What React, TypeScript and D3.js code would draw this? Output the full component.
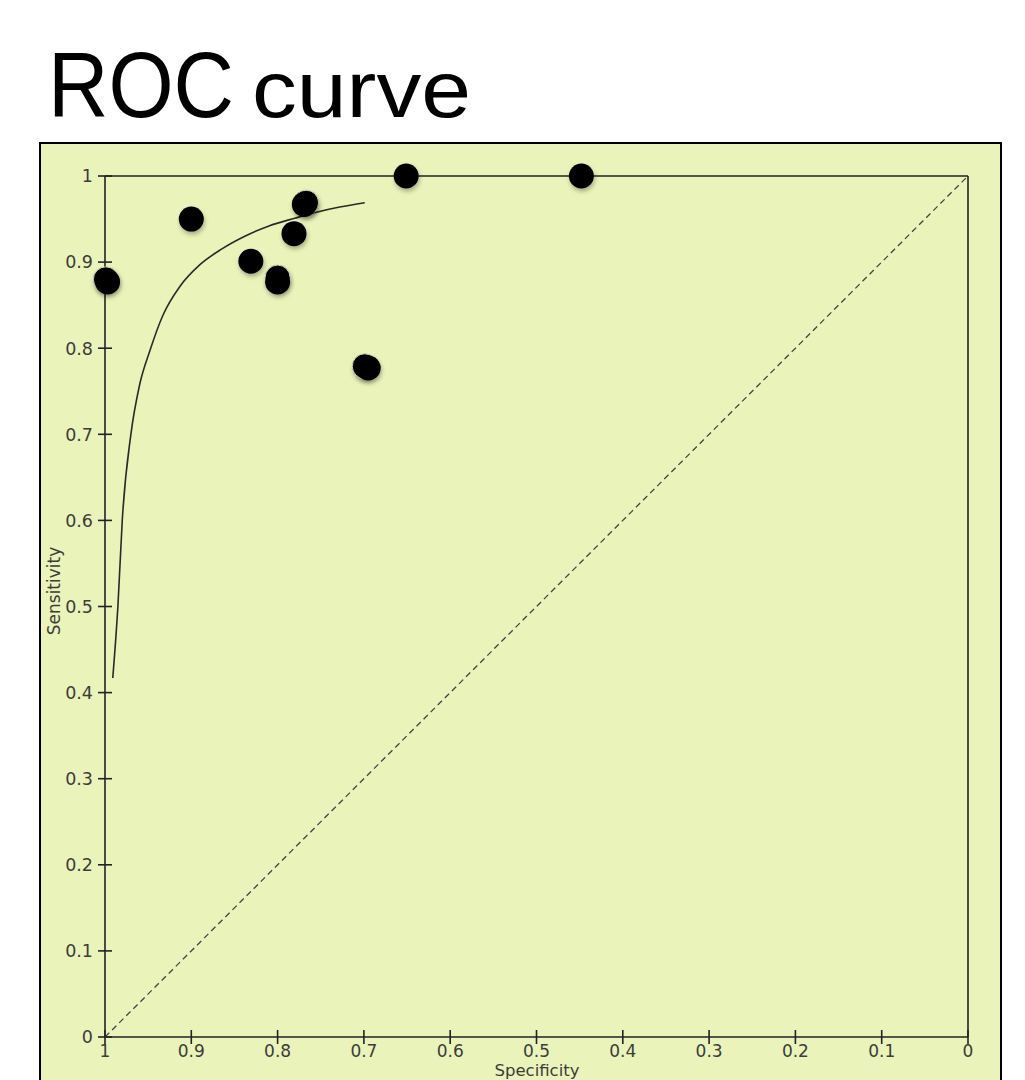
import React from 'react'
import * as d3 from 'd3'

// study points (specificity, sensitivity) - the first four sit just under another study
const studySpec = [0.999, 0.800, 0.699, 0.767, 0.997, 0.900, 0.831, 0.800, 0.781, 0.769, 0.695, 0.651, 0.448]
const studySens = [0.880, 0.882, 0.779, 0.969, 0.877, 0.950, 0.901, 0.877, 0.933, 0.967, 0.777, 1.0, 1.0]
const hiddenCount = 4

// fitted SROC curve
const curveSpec = [0.991, 0.985, 0.980, 0.970, 0.960, 0.948, 0.933, 0.913, 0.890, 0.865, 0.838, 0.810, 0.780, 0.755, 0.728, 0.699]
const curveSens = [0.417, 0.501, 0.600, 0.700, 0.757, 0.797, 0.838, 0.872, 0.897, 0.915, 0.930, 0.942, 0.951, 0.958, 0.964, 0.969]

const tickValues = [0, 0.1, 0.2, 0.3, 0.4, 0.5, 0.6, 0.7, 0.8, 0.9, 1]

const W = 1025
const H = 1080
const bg = '#eaf3b9'
const ink = '#222'
const labelColor = '#3c3c3c'
const tickFont = '"DejaVu Sans", Verdana, sans-serif'

const fmt = (v: number) => String(+v.toFixed(1))

export default function App() {
  const x = d3.scaleLinear().domain([1, 0]).range([105, 968])
  const y = d3.scaleLinear().domain([0, 1]).range([1037, 176])

  const curve = curveSpec.map((s, i) => [s, curveSens[i]] as [number, number])
  const linePath = d3.line<[number, number]>()
    .x(d => x(d[0]))
    .y(d => y(d[1]))
    .curve(d3.curveMonotoneX)(curve)

  const points = studySpec.map((s, i) => ({ spec: s, sens: studySens[i], hidden: i < hiddenCount }))

  return (
    <div style={{ position: 'absolute', left: 0, top: 0 }}>
      <svg width={W} height={H} style={{ display: 'block' }}>
        <defs>
          <filter id="shadow" x="-50%" y="-50%" width="200%" height="200%">
            <feDropShadow dx="1" dy="3" stdDeviation="2.2" floodColor="#000" floodOpacity="0.28" />
          </filter>
        </defs>
        <rect width={W} height={H} fill="#fff" />

        <text x={48} y={117} fontFamily='"Liberation Sans", Arial, sans-serif' fontSize={93}
          textLength={186} lengthAdjust="spacingAndGlyphs" fill="#000">ROC</text>
        <text x={252} y={117} fontFamily='"Liberation Sans", Arial, sans-serif' fontSize={79}
          textLength={219} lengthAdjust="spacingAndGlyphs" fill="#000">curve</text>

        <rect x={40} y={143} width={961} height={960} fill={bg} stroke="#000" strokeWidth={2} />

        {/* frame */}
        <line x1={x(1)} x2={x(0)} y1={y(1)} y2={y(1)} stroke={ink} strokeWidth={1.6} />
        <line x1={x(0)} x2={x(0)} y1={y(1)} y2={y(0)} stroke={ink} strokeWidth={1.6} />
        <line x1={x(1)} x2={x(1)} y1={y(1)} y2={y(0)} stroke={ink} strokeWidth={1.6} />
        <line x1={x(1)} x2={x(0)} y1={y(0)} y2={y(0)} stroke={ink} strokeWidth={1.6} />

        {/* chance line */}
        <line x1={x(1)} y1={y(0)} x2={x(0)} y2={y(1)} stroke="#444" strokeWidth={1.3} strokeDasharray="6,4" />

        {/* y axis */}
        {tickValues.map(t => (
          <g key={'y' + t}>
            <line x1={x(1) - 7} x2={x(1) + 7} y1={y(t)} y2={y(t)} stroke={ink} strokeWidth={1.6} />
            <text x={x(1) - 12} y={y(t)} dy="0.36em" textAnchor="end" fontFamily={tickFont}
              fontSize={17.5} fill={labelColor}>{fmt(t)}</text>
          </g>
        ))}

        {/* x axis */}
        {tickValues.map(t => (
          <g key={'x' + t}>
            <line x1={x(t)} x2={x(t)} y1={y(0) - 7} y2={y(0) + 7} stroke={ink} strokeWidth={1.6} />
            <text x={x(t)} y={1057} textAnchor="middle" fontFamily={tickFont}
              fontSize={17} fill={labelColor}>{fmt(t)}</text>
          </g>
        ))}

        <text x={537} y={1076} textAnchor="middle" fontFamily={tickFont} fontSize={16.5} fill={labelColor}>Specificity</text>
        <text transform="translate(60,591) rotate(-90)" textAnchor="middle" fontFamily={tickFont}
          fontSize={17} fill={labelColor}>Sensitivity</text>

        <path d={linePath || ''} fill="none" stroke="#2a2a2a" strokeWidth={1.6} />

        {points.map((p, i) => (
          <circle key={i} cx={x(p.spec)} cy={y(p.sens)} r={12.5} fill="#000"
            stroke={p.hidden ? '#cfd3b8' : 'none'} strokeWidth={p.hidden ? 1 : 0}
            filter="url(#shadow)" />
        ))}
      </svg>
    </div>
  )
}
